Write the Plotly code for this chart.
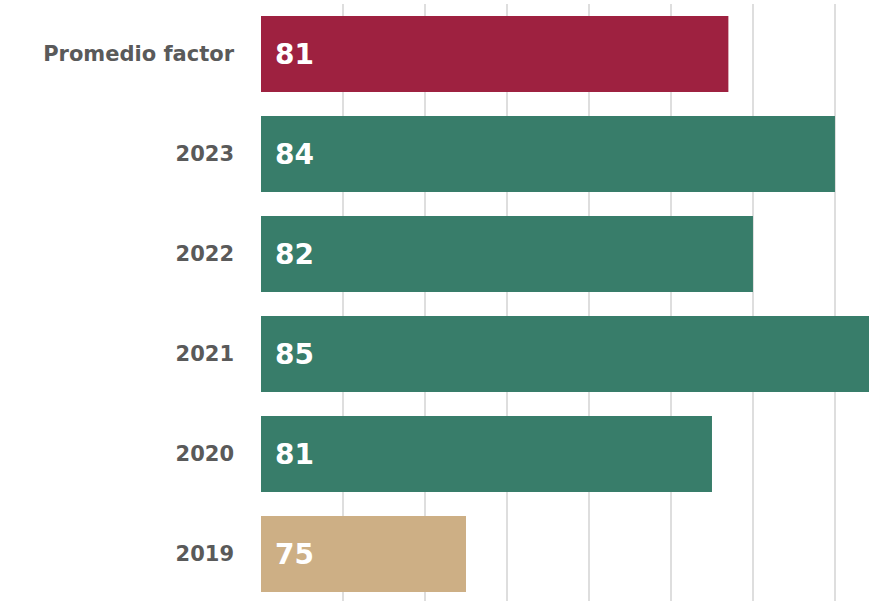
import plotly.graph_objects as go

categories = ["2019", "2020", "2021", "2022", "2023", "Promedio factor"]
values = [75, 81, 85, 82, 84, 81.4]
colors = ["#CDAF85", "#387D6A", "#387D6A", "#387D6A", "#387D6A", "#9E2140"]

x_min = 70
x_max = 84.83

fig = go.Figure()
fig.add_trace(go.Bar(
    y=categories,
    x=[v - x_min for v in values],
    base=x_min,
    orientation="h",
    marker=dict(color=colors, line=dict(width=0)),
    width=0.76,
    hoverinfo="skip",
))

for i, v in enumerate(values):
    fig.add_annotation(
        x=x_min, y=i, xref="x", yref="y",
        text=f"{v:.0f}", showarrow=False,
        xanchor="left", yanchor="middle", xshift=12, yshift=0,
        font=dict(family="DejaVu Sans", size=28, color="white", weight="bold"),
    )

fig.update_layout(
    width=869, height=601,
    margin=dict(l=261, r=0, t=4, b=0),
    paper_bgcolor="white", plot_bgcolor="white",
    showlegend=False,
    bargap=0.24,
    xaxis=dict(
        range=[x_min, x_max], dtick=2, tick0=x_min,
        showgrid=True, gridcolor="#dedede", gridwidth=1.5,
        showticklabels=False, zeroline=False, showline=False, ticks="",
    ),
    yaxis=dict(
        type="category", categoryorder="array", categoryarray=categories,
        range=[-0.47, 5.5], showgrid=False, zeroline=False, showline=False,
        ticks="", ticklabelstandoff=26,
        tickfont=dict(family="DejaVu Sans", size=21, color="#5a5a5a", weight="bold"),
    ),
)

fig.write_html(
    "out.html",
    config={"displayModeBar": False},
    post_script="document.body.style.margin='0';document.body.style.overflow='hidden';",
)
